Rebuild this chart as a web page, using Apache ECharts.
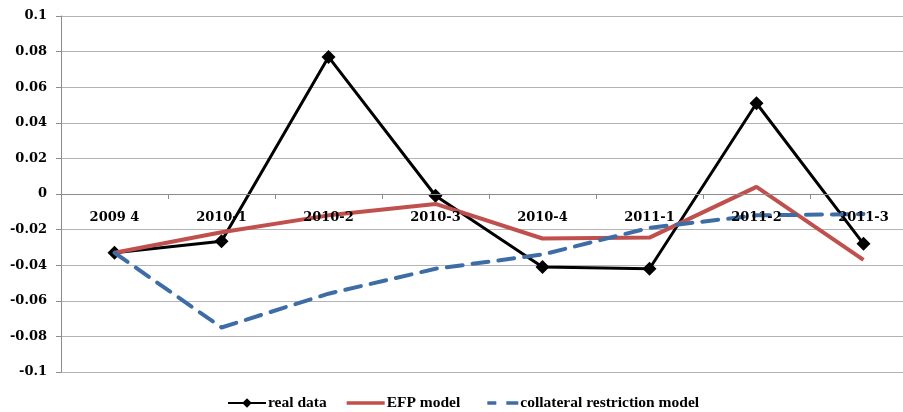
<!DOCTYPE html>
<html>
<head>
<meta charset="utf-8">
<script src="https://cdn.jsdelivr.net/npm/echarts@6/dist/echarts.min.js"></script>
<style>
html,body{margin:0;padding:0;background:#fff;overflow:hidden;width:903px;height:412px;}
#c{width:917px;height:412px;}
</style>
</head>
<body>
<div id="c"></div>
<script>
const categories = ['2009 4','2010-1','2010-2','2010-3','2010-4','2011-1','2011-2','2011-3'];
const realData = [-0.033, -0.0265, 0.077, -0.001, -0.041, -0.042, 0.051, -0.028];
const efpModel = [-0.033, -0.0215, -0.012, -0.0056, -0.025, -0.0245, 0.004, -0.037];
const collateralModel = [-0.033, -0.075, -0.056, -0.042, -0.034, -0.019, -0.012, -0.0113];
const yMin = -0.1, yMax = 0.1, yStep = 0.02;

const chart = echarts.init(document.getElementById('c'), null, {renderer:'canvas'});
const serif = '"DejaVu Serif", "Liberation Serif", serif';
const plotTop = 16, plotBottom = 40, plotH = 412 - plotTop - plotBottom;
// distance from bottom of plot to the zero line (value-axis driven)
const zeroOffset = -plotH * (0 - yMin) / (yMax - yMin);
chart.setOption({
  animation: false,
  backgroundColor: '#fff',
  grid: {left: 61, top: plotTop, right: 0, bottom: plotBottom, containLabel: false},
  legend: {
    left: 222, top: 390, padding: 5,
    itemWidth: 38, itemHeight: 12, itemGap: 20,
    textStyle: {fontFamily: '"Liberation Serif", serif', fontWeight: 'bold', fontSize: 15.5, color: '#000', padding:[0,0,0,-3]},
    data: [
      {name: 'real data'},
      {name: 'EFP model', icon: 'path://M0,0L0,0ZM0,12L0,12ZM0,4.3H38V7.7H0Z'},
      {name: 'collateral restriction model', icon: 'path://M0,0L0,0ZM0,12L0,12ZM7,4.3H16V7.7H7ZM26,4.3H38V7.7H26Z'}
    ]
  },
  xAxis: {
    type: 'category',
    data: categories,
    boundaryGap: true,
    z: 10,
    offset: zeroOffset,
    axisLine: {onZero: false, lineStyle: {color: '#8c8c8c', width: 1}},
    axisTick: {show: true, length: 5, lineStyle: {color: '#8c8c8c'}},
    axisLabel: {margin: 17, fontFamily: serif, fontWeight: 'bold', fontSize: 13, color: '#000'},
    splitLine: {show: false}
  },
  yAxis: {
    type: 'value',
    min: yMin, max: yMax, interval: yStep,
    axisLine: {show: true, lineStyle: {color: '#8c8c8c', width: 1}},
    axisTick: {show: true, length: 5, lineStyle: {color: '#8c8c8c'}},
    axisLabel: {margin: 14, fontFamily: serif, fontWeight: 'bold', fontSize: 13, color: '#000',
      formatter: v => String(+v.toFixed(2))},
    splitLine: {show: true, lineStyle: {color: '#b4b4b4', width: 1}}
  },
  series: [
    {
      name: 'real data', type: 'line', data: realData, z: 2,
      symbol: 'diamond', symbolSize: 14, showSymbol: true,
      itemStyle: {color: '#000'},
      lineStyle: {color: '#000', width: 3}
    },
    {
      name: 'EFP model', type: 'line', data: efpModel, z: 3,
      symbol: 'none',
      itemStyle: {color: '#C0504D'},
      lineStyle: {color: '#C0504D', width: 4}
    },
    {
      name: 'collateral restriction model', type: 'line', data: collateralModel, z: 4,
      symbol: 'none',
      itemStyle: {color: '#3E6DA6'},
      lineStyle: {color: '#3E6DA6', width: 4, type: [16, 10], cap: 'round'}
    }
  ]
});
</script>
</body>
</html>
